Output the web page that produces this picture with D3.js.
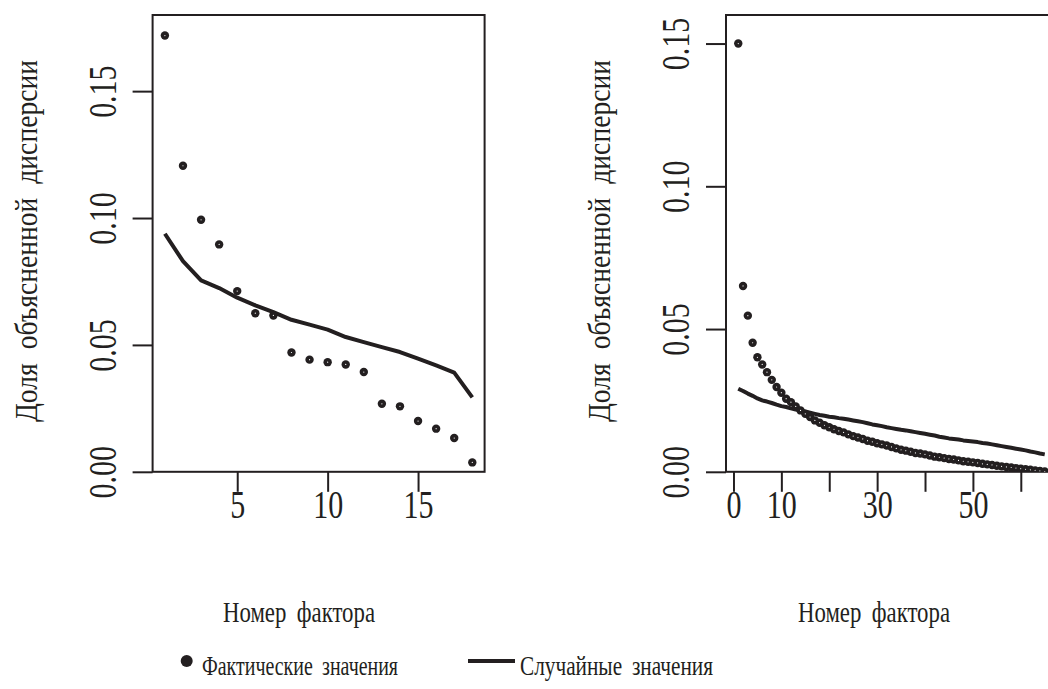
<!DOCTYPE html>
<html>
<head>
<meta charset="utf-8">
<script src="https://cdn.jsdelivr.net/npm/d3@7"></script>
<style>
  body { margin: 0; background: #fff; }
  text { font-family: "Liberation Serif", "Times New Roman", serif; fill: #231f20; }
</style>
</head>
<body>
<svg id="chart" width="1048" height="689"></svg>
<script>
// левая панель: 18 факторов
const actualLeft = [0.1719, 0.1206, 0.0993, 0.0896, 0.0712, 0.0625, 0.0616, 0.0470, 0.0442,
  0.0432, 0.0423, 0.0393, 0.0268, 0.0258, 0.0200, 0.0170, 0.0133, 0.0037]
const randomLeft = [0.0938, 0.0830, 0.0754, 0.0724, 0.0686, 0.0656, 0.0629, 0.0599, 0.0580,
  0.0560, 0.0531, 0.0511, 0.0491, 0.0472, 0.0446, 0.0419, 0.0391, 0.0293]

// правая панель: 65 факторов
const actualRight = [0.1500, 0.0651, 0.0547, 0.0452, 0.0401, 0.0376, 0.0349, 0.0322, 0.0297, 0.0277,
  0.0256, 0.0244, 0.0229, 0.0215, 0.0203, 0.0192, 0.0180, 0.0172, 0.0163, 0.0156,
  0.0149, 0.0143, 0.0138, 0.0131, 0.0125, 0.0120, 0.0115, 0.0109, 0.0105, 0.0100,
  0.0096, 0.0092, 0.0087, 0.0082, 0.0077, 0.0074, 0.0070, 0.0066, 0.0064, 0.0061,
  0.0057, 0.0053, 0.0051, 0.0048, 0.0045, 0.0043, 0.0040, 0.0037, 0.0035, 0.0033,
  0.0031, 0.0028, 0.0026, 0.0024, 0.0021, 0.0019, 0.0017, 0.0015, 0.0013, 0.0011,
  0.0009, 0.0007, 0.0005, 0.0003, 0.0001]
const randomRight = [0.0291, 0.0283, 0.0274, 0.0266, 0.0257, 0.0250, 0.0246, 0.0241, 0.0235, 0.0230,
  0.0227, 0.0222, 0.0218, 0.0215, 0.0211, 0.0207, 0.0203, 0.0199, 0.0196, 0.0193,
  0.0191, 0.0188, 0.0186, 0.0183, 0.0180, 0.0177, 0.0174, 0.0170, 0.0166, 0.0163,
  0.0160, 0.0156, 0.0153, 0.0150, 0.0147, 0.0145, 0.0142, 0.0139, 0.0136, 0.0133,
  0.0130, 0.0127, 0.0123, 0.0120, 0.0117, 0.0115, 0.0113, 0.0110, 0.0108, 0.0106,
  0.0104, 0.0101, 0.0099, 0.0096, 0.0093, 0.0090, 0.0087, 0.0084, 0.0081, 0.0078,
  0.0075, 0.0071, 0.0068, 0.0064, 0.0061]

const yTicks = [0, 0.05, 0.10, 0.15]
const xTicksLeft = [5, 10, 15]
const xTicksRight = [0, 10, 20, 30, 40, 50, 60]
const xLabelsRight = [0, 10, 30, 50]

const yTitle = 'Доля объясненной дисперсии'
const xTitle = 'Номер фактора'
const legendLabels = ['Фактические значения', 'Случайные значения']

const ink = '#231f20'
const tickFont = 40
const squeeze = 0.75 // шрифт в оригинале узкий
const svg = d3.select('#chart')

const panel = ({id, left, right, actual, random, yMax, xTicks, xLabels}) => {
  const n = actual.length
  const pad = 0.04 * (n - 1)
  const x = d3.scaleLinear().domain([1 - pad, n + pad]).range([left, right])
  const y = d3.scaleLinear().domain([0, yMax]).range([471.8, 15])
  const g = svg.append('g')

  g.append('clipPath').attr('id', 'clip' + id)
    .append('rect')
    .attr('x', left).attr('y', 15)
    .attr('width', right - left).attr('height', 471.8 - 15)

  const yAxis = g.append('g')
    .attr('transform', `translate(${left},0)`)
    .call(d3.axisLeft(y).tickValues(yTicks).tickFormat(d3.format('.2f')).tickSize(20).tickSizeOuter(0))
  yAxis.select('.domain').remove()
  yAxis.selectAll('.tick line').attr('stroke', ink).attr('stroke-width', 2)
  yAxis.selectAll('.tick text')
    .attr('x', null).attr('dy', null)
    .attr('text-anchor', 'middle')
    .attr('transform', `translate(-37,0) rotate(-90) scale(${squeeze},1)`)
    .attr('font-size', tickFont)

  const xAxis = g.append('g')
    .attr('transform', 'translate(0,471.8)')
    .call(d3.axisBottom(x).tickValues(xTicks).tickSize(20).tickSizeOuter(0)
      .tickFormat(d => xLabels.includes(d) ? d : ''))
  xAxis.select('.domain').remove()
  xAxis.selectAll('.tick line').attr('stroke', ink).attr('stroke-width', 2)
  xAxis.selectAll('.tick text')
    .attr('y', null).attr('dy', null)
    .attr('transform', `translate(0,46) scale(${squeeze},1)`)
    .attr('font-size', tickFont)

  g.append('rect')
    .attr('x', left).attr('y', 15)
    .attr('width', right - left).attr('height', 471.8 - 15)
    .attr('fill', 'none').attr('stroke', ink).attr('stroke-width', 2)

  const plot = g.append('g').attr('clip-path', `url(#clip${id})`)

  plot.append('path')
    .datum(random)
    .attr('fill', 'none')
    .attr('stroke', ink)
    .attr('stroke-width', 4)
    .attr('stroke-linejoin', 'round')
    .attr('d', d3.line().x((d, i) => x(i + 1)).y(d => y(d)))

  const pts = plot.selectAll('g.pt').data(actual).join('g')
    .attr('class', 'pt')
    .attr('transform', (d, i) => `translate(${x(i + 1)},${y(d)})`)
  pts.append('circle').attr('r', 4.2).attr('fill', ink)
  pts.append('circle').attr('r', 0.6).attr('fill', '#fff')

  return {left, right}
}

const p1 = panel({id: 1, left: 152.6, right: 484.6, actual: actualLeft, random: randomLeft,
  yMax: 0.18, xTicks: xTicksLeft, xLabels: xTicksLeft})
const p2 = panel({id: 2, left: 726, right: 1057, actual: actualRight, random: randomRight,
  yMax: 0.16, xTicks: xTicksRight, xLabels: xLabelsRight})

// подписи осей
const xTitleCenters = [299, 874]
;[p1, p2].forEach((p, i) => {
  svg.append('text')
    .attr('text-anchor', 'middle')
    .attr('font-size', 31)
    .attr('word-spacing', 8)
    .attr('textLength', 362)
    .attr('lengthAdjust', 'spacingAndGlyphs')
    .attr('transform', `translate(${p.left - 116},241) rotate(-90)`)
    .text(yTitle)
  svg.append('text')
    .attr('text-anchor', 'middle')
    .attr('font-size', 29)
    .attr('word-spacing', 6)
    .attr('textLength', 152)
    .attr('lengthAdjust', 'spacingAndGlyphs')
    .attr('x', xTitleCenters[i])
    .attr('y', 622)
    .text(xTitle)
})

// легенда
const legend = svg.append('g')
legend.append('circle').attr('cx', 186.7).attr('cy', 661).attr('r', 6).attr('fill', ink)
legend.append('text').attr('x', 202).attr('y', 675).attr('font-size', 28).attr('word-spacing', 6)
  .attr('textLength', 196).attr('lengthAdjust', 'spacingAndGlyphs')
  .text(legendLabels[0])
legend.append('line').attr('x1', 468).attr('x2', 515).attr('y1', 661).attr('y2', 661)
  .attr('stroke', ink).attr('stroke-width', 4)
legend.append('text').attr('x', 520).attr('y', 675).attr('font-size', 28).attr('word-spacing', 6)
  .attr('textLength', 193).attr('lengthAdjust', 'spacingAndGlyphs')
  .text(legendLabels[1])
</script>
</body>
</html>
